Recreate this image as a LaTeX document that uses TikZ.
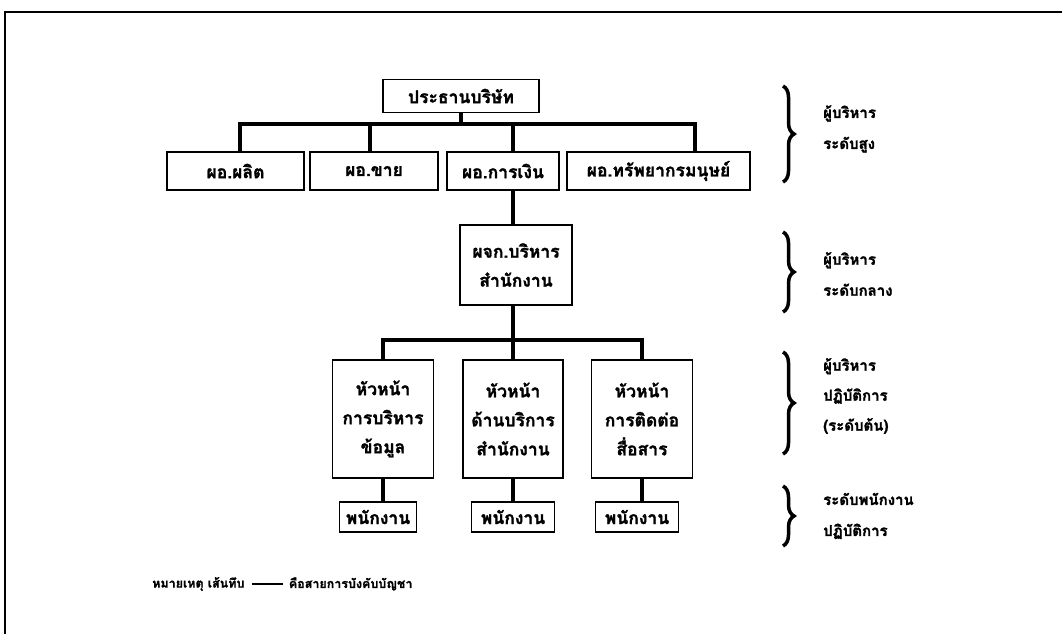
\documentclass[tikz,border=0pt]{standalone}
\usepackage{fontspec}
\newfontfamily\thaifont[Script=Thai, FakeBold=1.5]{Loma}
\newfontfamily\thaismall[Script=Thai, FakeBold=1.2]{Loma}
\usetikzlibrary{decorations.pathreplacing}
\tikzset{
  box/.style={draw, line width=1.8pt, inner sep=0pt, align=center, font=\thaifont\bfseries\fontsize{17.5}{29}\selectfont},
  lbl/.style={anchor=west, align=left, inner sep=0pt, font=\thaifont\bfseries\fontsize{15}{31}\selectfont},
  conn/.style={line width=4pt},
  brc/.style={line width=3.5pt, decorate, decoration={brace, amplitude=11pt}},
  legend/.style={anchor=west, inner sep=0pt, font=\thaismall\bfseries\fontsize{12.5}{13}\selectfont},
}
\begin{document}
\begin{tikzpicture}[x=1pt,y=-1pt]
\useasboundingbox (0,0) rectangle (1062,634);
% frame
\draw[line width=2.2pt] (5,634) -- (5,12) -- (1062,12);
% top level
\node[box, minimum width=156pt, minimum height=33pt] (ceo) at (461,96) {ประธานบริษัท};
\node[box, minimum width=137pt, minimum height=38pt] (d1) at (235.5,171) {ผอ.ผลิต};
\node[box, minimum width=128pt, minimum height=38pt] (d2) at (374,171) {ผอ.ขาย};
\node[box, minimum width=112pt, minimum height=38pt] (d3) at (503,171) {ผอ.การเงิน};
\node[box, minimum width=183pt, minimum height=38pt] (d4) at (658.5,171) {ผอ.ทรัพยากรมนุษย์};
\coordinate (barL) at (240,124);
\coordinate (barR) at (695,124);
\coordinate (barB) at (370,124);
\coordinate (barC) at (513,124);
\draw[conn] (ceo.south) -- (ceo.south |- barL);
\draw[conn] (barL |- d1.north) -- (barL) -- (barR) -- (barR |- d4.north);
\draw[conn] (barB) -- (barB |- d2.north);
\draw[conn] (barC) -- (barC |- d3.north);
% middle manager
\node[box, minimum width=112pt, minimum height=80pt] (mg) at (516,265) {ผจก.บริหาร\\สำนักงาน};
\draw[conn] (barC |- d3.south) -- (barC |- mg.north);
\coordinate (b2L) at (383,340);
\coordinate (b2C) at (513,340);
\coordinate (b2R) at (642,340);
\node[box, minimum width=101pt, minimum height=118pt] (h1) at (383,419) {หัวหน้า\\การบริหาร\\ข้อมูล};
\node[box, minimum width=100pt, minimum height=118pt] (h2) at (513,419) {หัวหน้า\\ด้านบริการ\\สำนักงาน};
\node[box, minimum width=101pt, minimum height=118pt] (h3) at (642,419) {หัวหน้า\\การติดต่อ\\สื่อสาร};
\draw[conn] (b2C |- mg.south) -- (b2C);
\draw[conn] (h1.north) -- (b2L) -- (b2R) -- (h3.north);
\draw[conn] (h2.north) -- (b2C);
% staff
\node[box, minimum width=77pt, minimum height=30pt] (s1) at (378,517) {พนักงาน};
\node[box, minimum width=83pt, minimum height=30pt] (s2) at (513,517) {พนักงาน};
\node[box, minimum width=83pt, minimum height=30pt] (s3) at (637,517) {พนักงาน};
\draw[conn] (h1.south) -- (h1.south |- s1.north);
\draw[conn] (h2.south) -- (s2.north);
\draw[conn] (h3.south) -- (h3.south |- s3.north);
% level braces and labels
\coordinate (k1a) at (783,86);  \coordinate (k1b) at (783,182);
\coordinate (k2a) at (783,232); \coordinate (k2b) at (783,312);
\coordinate (k3a) at (783,352); \coordinate (k3b) at (783,454);
\coordinate (k4a) at (783,486); \coordinate (k4b) at (783,546);
\draw[brc] (k1a) -- (k1b);
\node[lbl] (t1) at (823,129) {ผู้บริหาร\\ระดับสูง};
\draw[brc] (k2a) -- (k2b);
\node[lbl] (t2) at (823,274) {ผู้บริหาร\\ระดับกลาง};
\draw[brc] (k3a) -- (k3b);
\node[lbl, font=\thaifont\bfseries\fontsize{15}{30}\selectfont] (t3) at (823,396) {ผู้บริหาร\\ปฏิบัติการ\\(ระดับต้น)};
\draw[brc] (k4a) -- (k4b);
\node[lbl] (t4) at (823,516) {ระดับพนักงาน\\ปฏิบัติการ};
% legend
\node[legend] (n1) at (152,584) {หมายเหตุ เส้นทึบ};
\coordinate (lgA) at ([xshift=7pt]n1.east);
\coordinate (lgB) at ([xshift=38pt]n1.east);
\draw[line width=2.5pt] (lgA) -- (lgB);
\node[legend] (n2) at ([xshift=6pt]lgB) {คือสายการบังคับบัญชา};
\end{tikzpicture}
\end{document}
